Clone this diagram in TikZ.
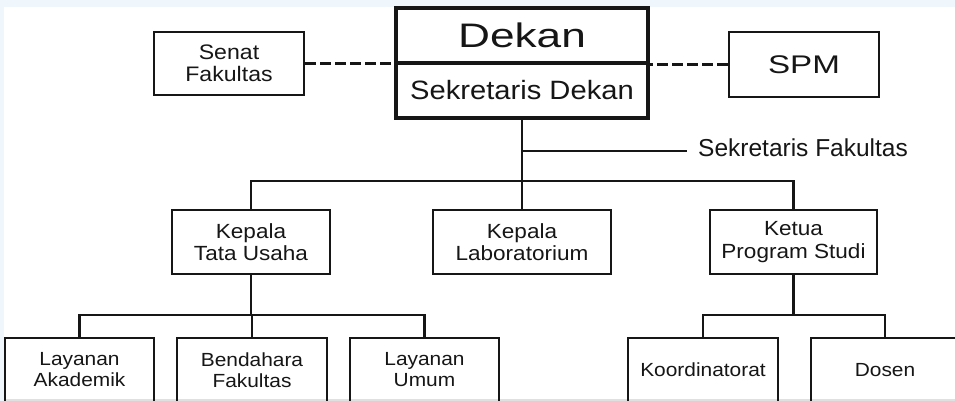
\documentclass[tikz,border=0pt]{standalone}
\usepackage{fontspec}
\setmainfont{Liberation Sans}
\newfontfamily\wf{Liberation Sans}[FakeStretch=1.1]
\newfontfamily\wwf{Liberation Sans}[FakeStretch=1.3]
\definecolor{bgblue}{RGB}{240,247,252}
\definecolor{ink}{RGB}{22,22,22}
\begin{document}
\begin{tikzpicture}[x=1pt,y=-1pt,
  box/.style={draw=ink,line width=2.1pt,inner sep=0pt,align=center,text=ink},
  bigbox/.style={draw=ink,line width=3.2pt,inner sep=0pt,align=center,text=ink},
  lvltwo/.style={box,minimum height=64pt,font=\wf\fontsize{20.5}{22.3}\selectfont},
  lvlthree/.style={box,minimum height=64pt,font=\wf\fontsize{19}{21}\selectfont},
  conn/.style={draw=ink,line width=2.1pt},
  dashconn/.style={draw=ink,line width=2.1pt,dash pattern=on 11pt off 4pt}
]
\useasboundingbox (0,0) rectangle (955,401);
\clip (0,0) rectangle (955,401);
\fill[bgblue] (0,0) rectangle (955,401);
\fill[white] (4,7) rectangle (955,399);
\fill[black!12] (4,399) rectangle (955,401);

% top level
\node[bigbox,minimum width=252pt,minimum height=55pt,font=\wwf\fontsize{34}{36}\selectfont] (dekan) at (522,35.5) {Dekan};
\node[bigbox,minimum width=252pt,minimum height=55pt,font=\wf\fontsize{26.5}{29}\selectfont] (sekdek) at (522,90.5) {Sekretaris Dekan};
\node[box,minimum width=150pt,minimum height=63pt,font=\wf\fontsize{21}{22}\selectfont] (senat) at (229,63.5) {Senat\\Fakultas};
\node[box,minimum width=150pt,minimum height=65pt,font=\wwf\fontsize{25.5}{27}\selectfont] (spm) at (804,64.5) {SPM};

\draw[dashconn] (senat.east) -- (senat.east -| dekan.south west);
\draw[dashconn] (spm.west) -- (spm.west -| dekan.south east);

% sekretaris fakultas
\coordinate (sf) at (522,151);
\coordinate (sfend) at (687,151);
\node[anchor=base west,inner sep=0pt,text=ink,font=\fontsize{24.5}{26}\selectfont] (sftext) at (698,156) {Sekretaris Fakultas};

% level 2
\node[lvltwo,minimum width=158pt] (ktu) at (251,242) {Kepala\\Tata Usaha};
\node[lvltwo,minimum width=178pt] (lab) at (522,242) {Kepala\\Laboratorium};
\node[lvltwo,minimum width=167pt] (ketua) at (793.5,242) {Ketua\\Program Studi};

% level 3
\node[lvlthree,minimum width=149pt] (la) at (79.5,370) {Layanan\\Akademik};
\node[lvlthree,minimum width=150pt] (bend) at (252,370) {Bendahara\\Fakultas};
\node[lvlthree,minimum width=149pt] (lu) at (424.5,370) {Layanan\\Umum};
\node[lvlthree,minimum width=150pt] (koord) at (703,370) {Koordinatorat};
\node[lvlthree,minimum width=148pt] (dosen) at (885,370) {Dosen};

% connectors
\coordinate (j1) at (522,181);
\coordinate (j2) at (251,315);
\coordinate (j3) at (793.5,315);
\draw[conn] (sekdek.south) -- (j1);
\draw[conn] (sf) -- (sfend);
\draw[conn] (ktu.north) |- (j1);
\draw[conn] (ketua.north) |- (j1);
\draw[conn] (lab.north) -- (j1);

\draw[conn] (ktu.south) -- (j2);
\draw[conn] (la.north) |- (j2);
\draw[conn] (lu.north) |- (j2);
\draw[conn] (bend.north) -- (bend.north |- j2);

\draw[conn] (ketua.south) -- (j3);
\draw[conn] (koord.north) |- (j3);
\draw[conn] (dosen.north) |- (j3);
\end{tikzpicture}
\end{document}
